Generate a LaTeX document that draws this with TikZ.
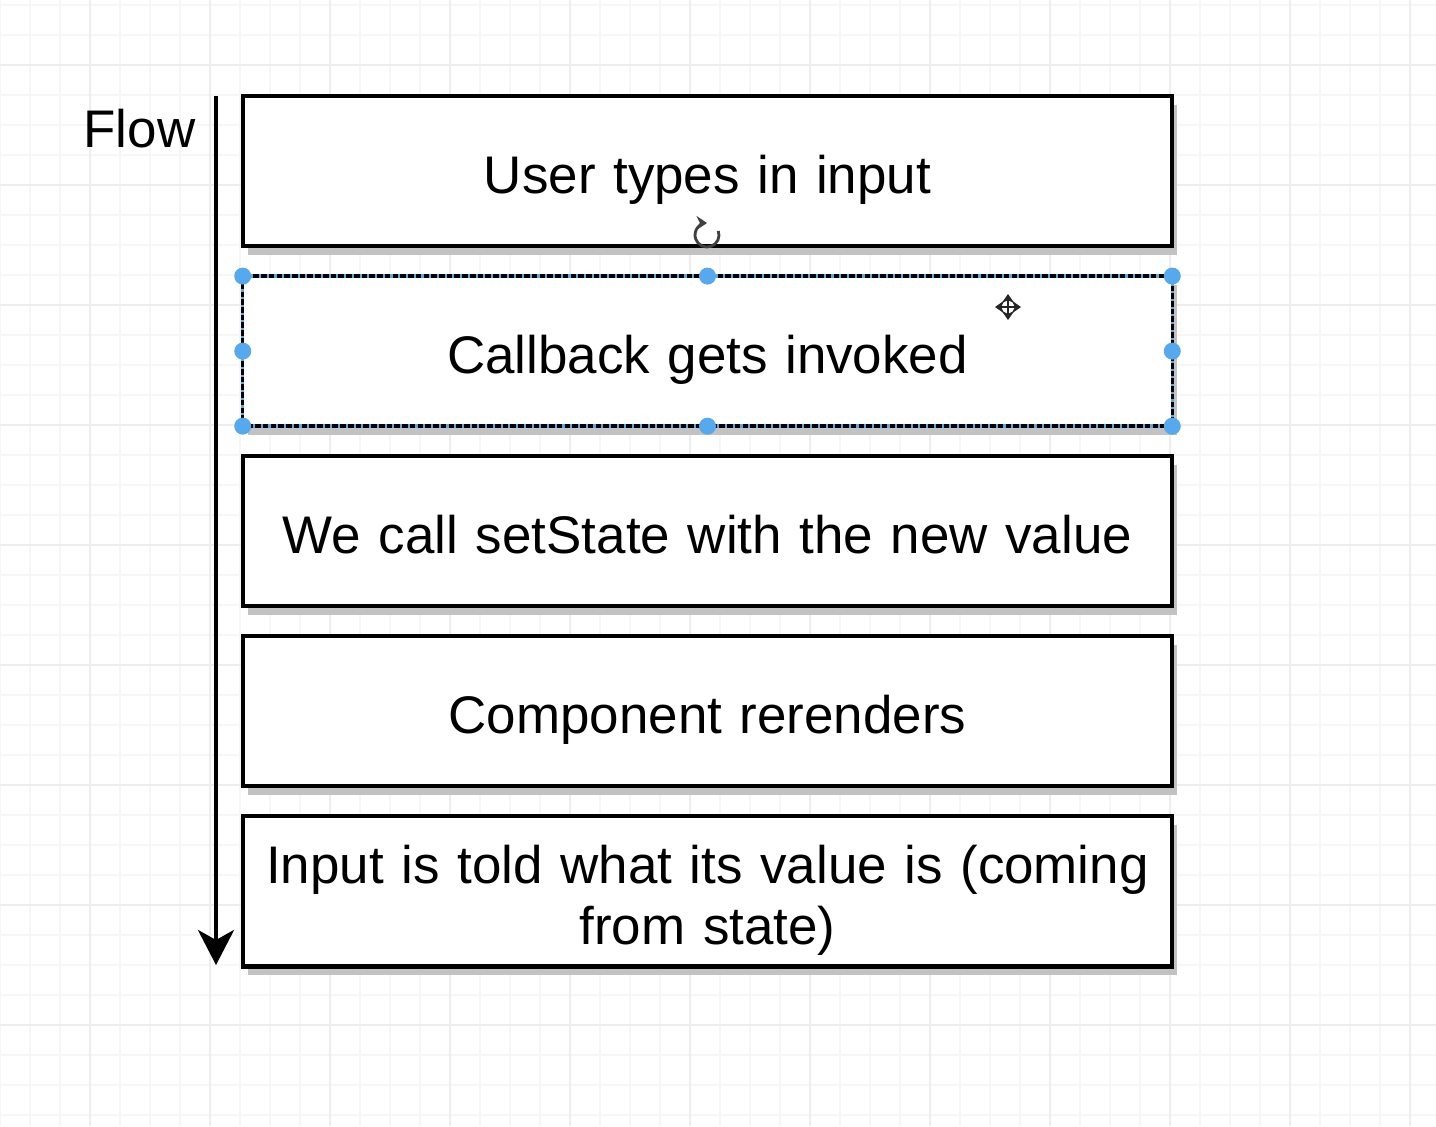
\documentclass[tikz,border=0pt]{standalone}
\usepackage{fontspec}
\setmainfont{Liberation Sans}
\usepackage{tikz}
\usetikzlibrary{positioning}
\usetikzlibrary{arrows.meta}
\usetikzlibrary{shadows}
\usepackage{xcolor}
\definecolor{gridminor}{HTML}{F6F6F6}
\definecolor{gridmajor}{HTML}{EDEDED}
\definecolor{handleblue}{HTML}{55A9EC}

\begin{document}
\begin{tikzpicture}[x=0.01cm, y=-0.01cm, node distance=0.3cm,
  font=\fontsize{15.05}{17.1}\selectfont,
  stage/.style={draw, line width=1.15pt, fill=white, minimum width=9.29cm,
    minimum height=1.5cm, outer sep=0pt, inner sep=0pt, text width=9.1cm, align=center,
    execute at begin node={\rule[-0.12cm]{0pt}{0.68cm}},
    drop shadow={shadow xshift=0.05cm, shadow yshift=-0.09cm, fill=black!24, opacity=1}},
  handle/.style={circle, fill=handleblue, minimum size=0.17cm, inner sep=0pt}]
  \useasboundingbox (0,0) rectangle (1436,1126);
  % grid
  \foreach \x in {0,30,...,1430} \draw[gridminor, line width=0.4pt] (\x,0) -- (\x,1126);
  \foreach \y in {5,35,...,1125} \draw[gridminor, line width=0.4pt] (0,\y) -- (1436,\y);
  \foreach \x in {90,210,...,1410} \draw[gridmajor, line width=0.4pt] (\x,0) -- (\x,1126);
  \foreach \y in {65,185,...,1125} \draw[gridmajor, line width=0.4pt] (0,\y) -- (1436,\y);

  % stages
  \node[stage] (input) at (707.5,171) {User types in input};
  \node[stage, below=of input, draw=handleblue, line width=1pt] (callback) {Callback gets invoked};
  \node[stage, below=of callback] (setstate) {We call setState with the new value};
  \node[stage, below=of setstate] (rerender) {Component rerenders};
  \node[stage, below=of rerender] (told) {Input is told what its value is (coming\\ from state)};

  % selection of the second stage
  \draw[dash pattern=on 1.6pt off 0.6pt, line width=1pt] (callback.north west) rectangle (callback.south east);
  \foreach \a in {north west, north, north east, east, south east, south, south west, west}
    \node[handle] (h-\a) at (callback.\a) {};

  % rotate and move cursors
  \coordinate (rot) at (707,235);
  \draw[black!75, line width=0.8pt, -{Stealth[length=3pt, width=4pt]}] (rot) ++(-20:12) arc[start angle=-20, end angle=270, radius=12];
  \coordinate (move) at (1008,307);
  \draw[black!85, line width=0.8pt, {Stealth[length=2.6pt, width=3.6pt]}-{Stealth[length=2.6pt, width=3.6pt]}] ([xshift=-0.13cm]move) -- ([xshift=0.13cm]move);
  \draw[black!85, line width=0.8pt, {Stealth[length=2.6pt, width=3.6pt]}-{Stealth[length=2.6pt, width=3.6pt]}] ([yshift=-0.13cm]move) -- ([yshift=0.13cm]move);

  % flow arrow
  \node[anchor=base east, inner sep=0pt] (flow) at (196,147) {Flow};
  \coordinate (flowtop) at (216,96);
  \coordinate (flowend) at (216,965);
  \draw[line width=1.15pt, -{Stealth[length=0.35cm, width=0.36cm, inset=0.1cm]}] (flowtop) -- (flowend);
\end{tikzpicture}
\end{document}
